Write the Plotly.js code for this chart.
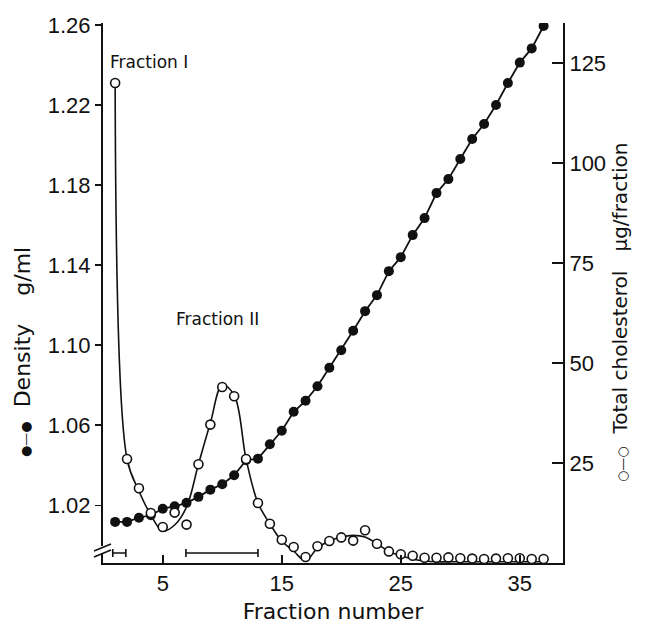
<!DOCTYPE html>
<html><head><meta charset="utf-8">
<script src="https://cdn.plot.ly/plotly-3.0.1.min.js"></script>
<style>html,body{margin:0;padding:0;background:#fff}</style>
</head><body><div id="chart" style="width:648px;height:624px"></div>
<script>
const fractions = [1,2,3,4,5,6,7,8,9,10,11,12,13,14,15,16,17,18,19,20,21,22,23,24,25,26,27,28,29,30,31,32,33,34,35,36,37];
const density = [1.0117,1.0117,1.0138,1.015,1.0183,1.0195,1.0212,1.0242,1.0278,1.0305,1.035,1.0425,1.0433,1.0505,1.0572,1.0667,1.0722,1.0795,1.0887,1.0975,1.1072,1.117,1.125,1.137,1.144,1.155,1.1635,1.176,1.183,1.193,1.203,1.2105,1.22,1.231,1.2412,1.2483,1.2595];
const cholesterol = [120,26,18.7,12.5,9,12.6,9.6,24.7,34.6,44,41.7,26,15,9.8,5.8,4,1.5,4.2,5.5,6.4,5.6,8.2,4.8,2.9,2.2,1.8,1.3,1.3,1.4,1.2,1.1,1.0,1.1,1.2,1.2,1.0,1.0];
const cholCurve = [120,26,18,12,8,9.5,14,24.7,35,44.5,42,26,15,9.8,5.5,3,0.5,3.8,5.5,6.5,6.9,6.5,4.8,2.9,1.8,1.0,0.5,0.3,0.3,0.3,0.3,0.3,0.3,0.3,0.3,0.3,0.3];
const poolStart = [0.8, 6.95];
const poolEnd = [1.9, 13.0];
const poolLevel = [2.5, 2.5];
const xTicks = [5, 15, 25, 35];
const densityTicks = [1.02, 1.06, 1.10, 1.14, 1.18, 1.22, 1.26];
const cholTicks = [25, 50, 75, 100, 125];

const L = 103, R = 563, T = 23, B = 563, W = 648, H = 624;
const px = x => (x - L) / (R - L);
const py = y => (B - y) / (B - T);

const tickFont = {family: 'Liberation Sans, Arial, sans-serif', size: 22, color: '#111'};
const titleFont = {family: 'DejaVu Sans, sans-serif', size: 22, color: '#111'};
const nb = n => '\u00A0'.repeat(n);
const sym = s => '<span style="font-size:13px">' + s + '</span>';

const traces = [
  {x: fractions, y: cholCurve, yaxis: 'y2', mode: 'lines', line: {color: '#111', width: 1.6, shape: 'spline', smoothing: 1}, hoverinfo: 'skip'},
  {x: fractions, y: density, mode: 'lines+markers', line: {color: '#111', width: 1.8}, marker: {color: '#111', size: 10}},
  {x: fractions, y: cholesterol, yaxis: 'y2', mode: 'markers', marker: {color: '#fff', size: 9, line: {color: '#111', width: 1.6}}},
  {x: poolStart.map((s, i) => (s + poolEnd[i]) / 2), y: poolLevel, yaxis: 'y2', mode: 'markers', marker: {size: 1, opacity: 0},
   error_x: {type: 'data', array: poolStart.map((s, i) => (poolEnd[i] - s) / 2), color: '#111', thickness: 1.6, width: 4}}
];

const layout = {
  width: W, height: H, showlegend: false,
  paper_bgcolor: '#fff', plot_bgcolor: '#fff',
  margin: {l: L, r: W - R, t: T, b: H - B, pad: 0},
  xaxis: {range: [-0.02, 38.63], tickvals: xTicks, ticktext: xTicks.map(String), ticks: 'inside', ticklen: 8, tickwidth: 1.5,
    tickcolor: '#111', showline: true, linecolor: '#111', linewidth: 2, showgrid: false, zeroline: false, tickfont: tickFont,
    title: {text: 'Fraction number', font: titleFont, standoff: 8}},
  yaxis: {range: [0.99115, 1.261], tickvals: densityTicks, ticktext: densityTicks.map(v => v.toFixed(2)), ticks: 'outside', ticklen: 6,
    tickwidth: 1.5, tickcolor: '#111', showline: true, linecolor: '#111', linewidth: 2, showgrid: false, zeroline: false, tickfont: tickFont},
  yaxis2: {range: [0, 135], overlaying: 'y', side: 'right', tickvals: cholTicks, ticktext: cholTicks.map(String), ticks: 'inside', ticklen: 11,
    tickwidth: 1.5, tickcolor: '#111', showline: true, linecolor: '#111', linewidth: 2, showgrid: false, zeroline: false, tickfont: tickFont},
  annotations: [
    {text: 'Fraction I', x: 0.4, y: 125.3, xref: 'x', yref: 'y2', xanchor: 'left', yanchor: 'middle', showarrow: false,
     font: {family: 'DejaVu Sans, sans-serif', size: 17, color: '#111'}},
    {text: 'Fraction II', x: 9.6, y: 61, xref: 'x', yref: 'y2', xanchor: 'center', yanchor: 'middle', showarrow: false,
     font: {family: 'DejaVu Sans, sans-serif', size: 17, color: '#111'}},
    {text: sym('\u25CF\u2014\u25CF') + nb(2) + 'Density' + nb(4) + 'g/ml', textangle: -90, x: px(22), y: py(352), xref: 'paper', yref: 'paper',
     xanchor: 'center', yanchor: 'middle', showarrow: false, font: titleFont},
    {text: sym('\u25CB\u2014\u25CB') + nb(2) + 'Total cholesterol' + nb(3) + '\u00B5g/fraction', textangle: -90, x: px(620), y: py(313), xref: 'paper', yref: 'paper',
     xanchor: 'center', yanchor: 'middle', showarrow: false, font: {family: 'DejaVu Sans, sans-serif', size: 20, color: '#111'}}
  ],
  shapes: [
    {type: 'rect', xref: 'paper', yref: 'paper', x0: px(99), x1: px(107), y0: py(553), y1: py(546), fillcolor: '#fff', line: {width: 0}, layer: 'above'},
    {type: 'line', xref: 'paper', yref: 'paper', x0: px(94), y0: py(551), x1: px(111), y1: py(544), line: {color: '#111', width: 1.6}, layer: 'above'},
    {type: 'line', xref: 'paper', yref: 'paper', x0: px(94), y0: py(557), x1: px(111), y1: py(550), line: {color: '#111', width: 1.6}, layer: 'above'}
  ]
};

Plotly.newPlot('chart', traces, layout, {displayModeBar: false, staticPlot: true});
</script>
</body></html>
